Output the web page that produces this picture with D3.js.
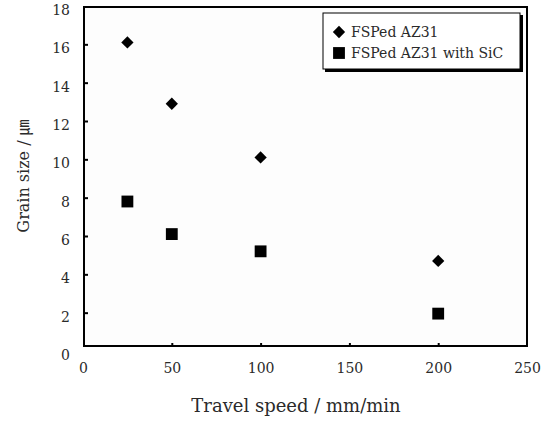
<!DOCTYPE html>
<html>
<head>
<meta charset="utf-8">
<script src="https://cdn.jsdelivr.net/npm/d3@7"></script>
<style>
  body { margin: 0; background: #fff; }
  svg text { font-family: "DejaVu Serif", "Noto Sans CJK KR", serif; fill: #2a2a2a; }
</style>
</head>
<body>
<div id="chart"></div>
<script>
// travel speed (mm/min)
const speeds = [25, 50, 100, 200];
// grain size (um)
const plainAZ31 = [16.1, 12.9, 10.1, 4.7];
const withSiC = [7.8, 6.1, 5.2, 1.95];

const seriesNames = ['FSPed AZ31', 'FSPed AZ31 with SiC'];
const xTicks = [0, 50, 100, 150, 200, 250];
const yTicks = [0, 2, 4, 6, 8, 10, 12, 14, 16, 18];

const width = 548, height = 421;
const frame = { left: 84, right: 527, top: 7, bottom: 346 };

const svg = d3.select('#chart')
  .append('svg')
  .attr('width', width)
  .attr('height', height);

const x = d3.scaleLinear().domain([0, 250]).range([83, 527]);
const y = d3.scaleLinear().domain([0, 18]).range([351, 6]);

// plot frame
svg.append('rect')
  .attr('x', frame.left)
  .attr('y', frame.top)
  .attr('width', frame.right - frame.left)
  .attr('height', frame.bottom - frame.top)
  .attr('fill', '#fdfdfd')
  .attr('stroke', '#000')
  .attr('stroke-width', 2);

// y axis ticks + labels
const yAxis = d3.axisLeft(y)
  .tickValues(yTicks)
  .tickSizeInner(-4)
  .tickSizeOuter(0)
  .tickPadding(14)
  .tickFormat(d3.format('d'));

const gy = svg.append('g')
  .attr('transform', `translate(${frame.left},0)`)
  .call(yAxis);
gy.select('.domain').remove();
gy.selectAll('.tick line').attr('stroke', '#000').attr('stroke-width', 2)
  .filter((d) => d === 0 || d === 18).remove();
gy.selectAll('.tick text')
  .attr('dy', '0.6em')
  .style('font-size', '14px');

// x axis ticks + labels
const xAxis = d3.axisBottom(x)
  .tickValues(xTicks)
  .tickSizeInner(-3)
  .tickSizeOuter(0)
  .tickPadding(17)
  .tickFormat(d3.format('d'));

const gx = svg.append('g')
  .attr('transform', `translate(0,${frame.bottom})`)
  .call(xAxis);
gx.select('.domain').remove();
gx.selectAll('.tick line').attr('stroke', '#000').attr('stroke-width', 2)
  .filter((d) => d === 0 || d === 250).remove();
gx.selectAll('.tick text').style('font-size', '14px');

// axis titles
svg.append('text')
  .attr('x', 296)
  .attr('y', 412)
  .attr('text-anchor', 'middle')
  .style('font-size', '18px')
  .text('Travel speed / mm/min');

svg.append('text')
  .attr('transform', 'translate(29,176) rotate(-90)')
  .attr('text-anchor', 'middle')
  .style('font-size', '16px')
  .text('Grain size / ㎛');

// markers
const diamond = d3.symbol().type(d3.symbolDiamond2).size(96);
const square = d3.symbol().type(d3.symbolSquare).size(140);

svg.append('g')
  .selectAll('path')
  .data(speeds.map((s, i) => [s, plainAZ31[i]]))
  .enter()
  .append('path')
  .attr('d', diamond)
  .attr('transform', (d) => `translate(${x(d[0])},${y(d[1])})`)
  .attr('fill', '#000');

svg.append('g')
  .selectAll('path')
  .data(speeds.map((s, i) => [s, withSiC[i]]))
  .enter()
  .append('path')
  .attr('d', square)
  .attr('transform', (d) => `translate(${x(d[0])},${y(d[1])})`)
  .attr('fill', '#000');

// legend
const legend = svg.append('g').attr('transform', 'translate(323,13)');
legend.append('rect')
  .attr('x', 2).attr('y', 2)
  .attr('width', 198).attr('height', 57)
  .attr('fill', '#000');
legend.append('rect')
  .attr('width', 197).attr('height', 56)
  .attr('fill', '#fff')
  .attr('stroke', '#000')
  .attr('stroke-width', 1);

const markers = [diamond, square];
seriesNames.forEach((name, i) => {
  const row = legend.append('g').attr('transform', `translate(0,${19 + i * 21})`);
  row.append('path')
    .attr('d', markers[i])
    .attr('transform', 'translate(16,0)')
    .attr('fill', '#000');
  row.append('text')
    .attr('x', 28)
    .attr('dy', '0.35em')
    .style('font-size', '14px')
    .text(name);
});
</script>
</body>
</html>
